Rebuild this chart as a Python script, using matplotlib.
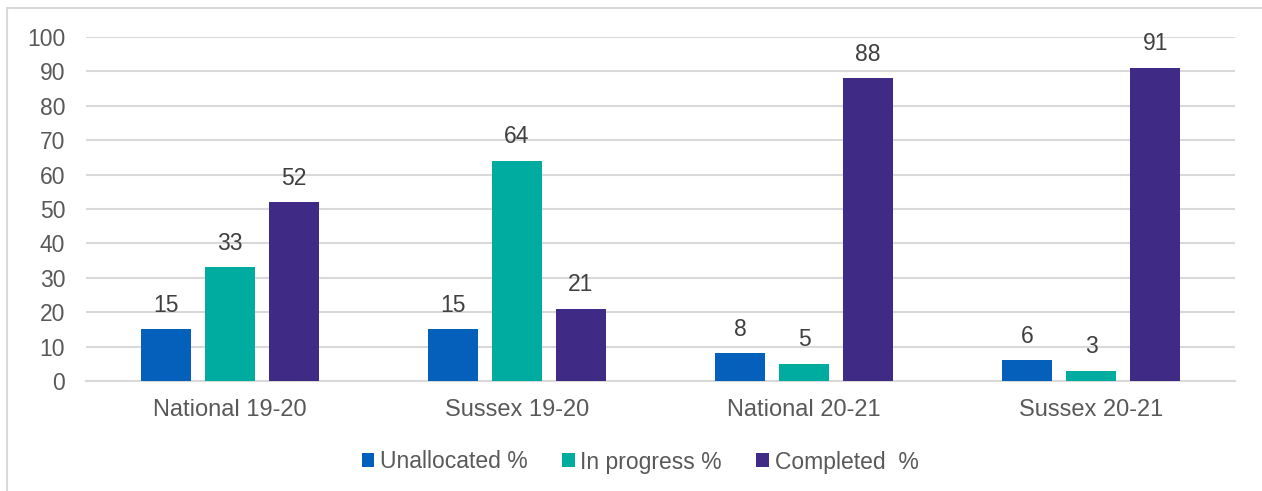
import numpy as np
import matplotlib.pyplot as plt
from matplotlib.patches import Rectangle

plt.rcParams['font.family'] = ['Liberation Sans', 'DejaVu Sans']

groups = ['National 19-20', 'Sussex 19-20', 'National 20-21', 'Sussex 20-21']
series = ['Unallocated %', 'In progress %', 'Completed  %']
unallocated = [15, 15, 8, 6]
in_progress = [33, 64, 5, 3]
completed = [52, 21, 88, 91]
colours = ['#0560BC', '#00AC9F', '#3F2A86']

fig = plt.figure(figsize=(12.62, 4.91), dpi=100)
ax = fig.add_axes([86/1262, 1-381/491, (1235-86)/1262, (381-37)/491])

# light frame round the whole chart
fig.patches.append(Rectangle((7/1262, -0.1), 1.1, 1.1 - 8/491,
                             transform=fig.transFigure, fill=False,
                             edgecolor='#D9D9D9', linewidth=1.5))

x = np.arange(len(groups))
w = 0.174
step = 0.2228
for i, (vals, lab, c) in enumerate(zip([unallocated, in_progress, completed], series, colours)):
    bars = ax.bar(x + (i-1)*step, vals, w, color=c, label=lab, zorder=3)
    ax.bar_label(bars, padding=9, fontsize=16.5, color='#404040')

ax.set_xlim(-0.5, 3.5)
ax.set_ylim(0, 100)
ax.set_yticks(range(0, 101, 10))
ax.set_xticks(x)
ax.set_xticklabels(groups)
ax.grid(axis='y', color='#D9D9D9', linewidth=1.5, zorder=0)
for s in ['top', 'right', 'left']:
    ax.spines[s].set_visible(False)
ax.spines['bottom'].set_color('#D9D9D9')
ax.spines['bottom'].set_linewidth(1.5)
ax.tick_params(axis='both', length=0, colors='#595959')
ax.tick_params(axis='y', pad=15, labelsize=16.5)
ax.tick_params(axis='x', pad=13, labelsize=17)

fig.legend(loc='center', bbox_to_anchor=(640/1262, 1-462/491), ncol=3,
           frameon=False, fontsize=16.5, labelcolor='#595959',
           handlelength=0.55, handleheight=0.55, handletextpad=0.25,
           columnspacing=1.5)

fig.savefig('out.png', dpi=100)
